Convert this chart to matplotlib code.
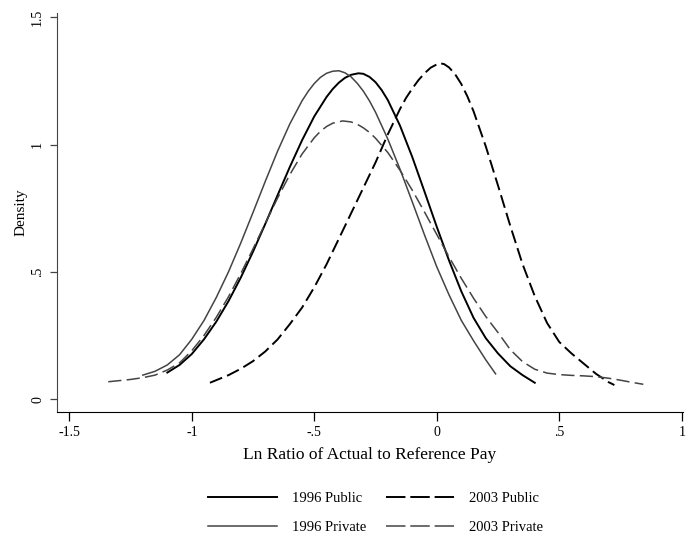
import numpy as np
import matplotlib
matplotlib.use('Agg')
import matplotlib.pyplot as plt
from matplotlib.lines import Line2D

plt.rcParams.update({
    'font.family': 'Liberation Serif',
    'lines.scale_dashes': False,
})

# density curves
pub96_x = [-1.10, -1.05, -1.00, -0.95, -0.90, -0.85, -0.80, -0.75, -0.70, -0.65, -0.60, -0.55,
           -0.50, -0.45, -0.425, -0.40, -0.375, -0.35, -0.32, -0.30, -0.275, -0.25, -0.225,
           -0.20, -0.15, -0.10, -0.05, 0.00, 0.05, 0.10, 0.15, 0.20, 0.25, 0.30, 0.35, 0.40]
pub96_y = [0.105, 0.135, 0.178, 0.236, 0.305, 0.386, 0.478, 0.580, 0.689, 0.801, 0.912, 1.017,
           1.111, 1.187, 1.218, 1.243, 1.262, 1.274, 1.280, 1.278, 1.266, 1.245, 1.214,
           1.175, 1.074, 0.951, 0.815, 0.677, 0.545, 0.424, 0.320, 0.240, 0.180, 0.130, 0.095, 0.065]

priv96_x = [-1.20, -1.15, -1.10, -1.05, -1.00, -0.95, -0.90, -0.85, -0.80, -0.75, -0.70, -0.65,
            -0.60, -0.55, -0.525, -0.50, -0.475, -0.45, -0.425, -0.40, -0.375, -0.35, -0.325,
            -0.30, -0.275, -0.25, -0.20, -0.15, -0.10, -0.05, 0.00, 0.05, 0.10, 0.15, 0.20, 0.24]
priv96_y = [0.095, 0.110, 0.135, 0.175, 0.236, 0.310, 0.400, 0.501, 0.614, 0.734, 0.856, 0.974,
            1.081, 1.172, 1.209, 1.240, 1.264, 1.280, 1.288, 1.290, 1.282, 1.266, 1.241,
            1.210, 1.172, 1.127, 1.022, 0.903, 0.775, 0.645, 0.520, 0.410, 0.310, 0.230, 0.155, 0.100]

pub03_x = [-0.926, -0.85, -0.80, -0.75, -0.70, -0.65, -0.60, -0.55, -0.50, -0.45, -0.40, -0.35,
           -0.30, -0.25, -0.20, -0.15, -0.125, -0.10, -0.075, -0.05, -0.025, 0.01, 0.03, 0.05,
           0.075, 0.10, 0.125, 0.15, 0.20, 0.25, 0.30, 0.35, 0.40, 0.45, 0.50, 0.55, 0.60,
           0.65, 0.70, 0.725]
pub03_y = [0.065, 0.095, 0.120, 0.150, 0.188, 0.235, 0.295, 0.360, 0.440, 0.530, 0.630, 0.730,
           0.830, 0.930, 1.040, 1.140, 1.184, 1.220, 1.253, 1.280, 1.302, 1.320, 1.316, 1.303,
           1.276, 1.238, 1.189, 1.131, 0.993, 0.839, 0.681, 0.531, 0.405, 0.300, 0.225, 0.180, 0.140,
           0.100, 0.068, 0.056]

priv03_x = [-1.341, -1.30, -1.25, -1.20, -1.15, -1.10, -1.05, -1.00, -0.95, -0.90, -0.85, -0.80,
            -0.75, -0.70, -0.65, -0.60, -0.55, -0.50, -0.475, -0.45, -0.425, -0.384, -0.35,
            -0.325, -0.30, -0.275, -0.25, -0.20, -0.15, -0.10, -0.05, 0.00, 0.05, 0.10, 0.15,
            0.20, 0.25, 0.30, 0.35, 0.40, 0.45, 0.50, 0.55, 0.60, 0.65, 0.70, 0.75, 0.80, 0.843]
priv03_y = [0.069, 0.073, 0.078, 0.085, 0.095, 0.115, 0.143, 0.191, 0.251, 0.322, 0.403, 0.494,
            0.591, 0.691, 0.790, 0.882, 0.963, 1.027, 1.052, 1.071, 1.084, 1.093, 1.089,
            1.080, 1.066, 1.048, 1.025, 0.969, 0.899, 0.821, 0.735, 0.647, 0.559, 0.475, 0.397,
            0.325, 0.262, 0.195, 0.148, 0.118, 0.103, 0.097, 0.094, 0.092, 0.089, 0.083, 0.075, 0.066, 0.059]

labels = ['1996 Public', '1996 Private', '2003 Public', '2003 Private']

xticks = [-1.5, -1, -0.5, 0, 0.5, 1]
xtick_labels = ['-1.5', '-1', '-.5', '0', '.5', '1']
yticks = [0, 0.5, 1, 1.5]
ytick_labels = ['0', '.5', '1', '1.5']

dark = '#444444'
dash = (9.5, 3.8)

fig = plt.figure(figsize=(6.86, 5.37), dpi=100)
ax = fig.add_axes([0.0827, 0.2322, 0.9122, 0.7436])

ax.plot(pub96_x, pub96_y, color='black', lw=1.4)
ax.plot(pub03_x, pub03_y, color='black', lw=1.4, dashes=dash)
ax.plot(priv96_x, priv96_y, color=dark, lw=1.1)
ax.plot(priv03_x, priv03_y, color=dark, lw=1.1, dashes=dash)

ax.set_xlim(-1.5514, 1.003)
ax.set_ylim(-0.051, 1.5167)
ax.spines['top'].set_visible(False)
ax.spines['right'].set_visible(False)
ax.spines['left'].set_color(dark)
ax.spines['bottom'].set_color('black')

ax.set_xticks(xticks)
ax.set_xticklabels(xtick_labels)
ax.set_yticks(yticks)
ax.set_yticklabels(ytick_labels, rotation=90, va='center')
ax.tick_params(axis='x', length=6.5, width=0.9, labelsize=10, pad=3)
ax.tick_params(axis='y', length=5, width=0.9, labelsize=10, pad=4, color=dark)

ax.set_xlabel('Ln Ratio of Actual to Reference Pay', fontsize=12.5, labelpad=6)
ax.set_ylabel('Density', fontsize=11, labelpad=3)

# legend keys use longer dashes, as in the original
handles = [
    Line2D([0], [0], color='black', lw=1.4),
    Line2D([0], [0], color=dark, lw=1.1),
    Line2D([0], [0], color='black', lw=1.4, dashes=(14, 3.5)),
    Line2D([0], [0], color=dark, lw=1.1, dashes=(14, 3.5)),
]
fig.legend(handles=handles, labels=labels, loc='center', bbox_to_anchor=(0.548, 0.0447),
           ncol=2, frameon=False, fontsize=10.5, handlelength=4.7, handletextpad=1.0,
           columnspacing=1.4, labelspacing=1.1)

plt.savefig('out.png', dpi=100)
